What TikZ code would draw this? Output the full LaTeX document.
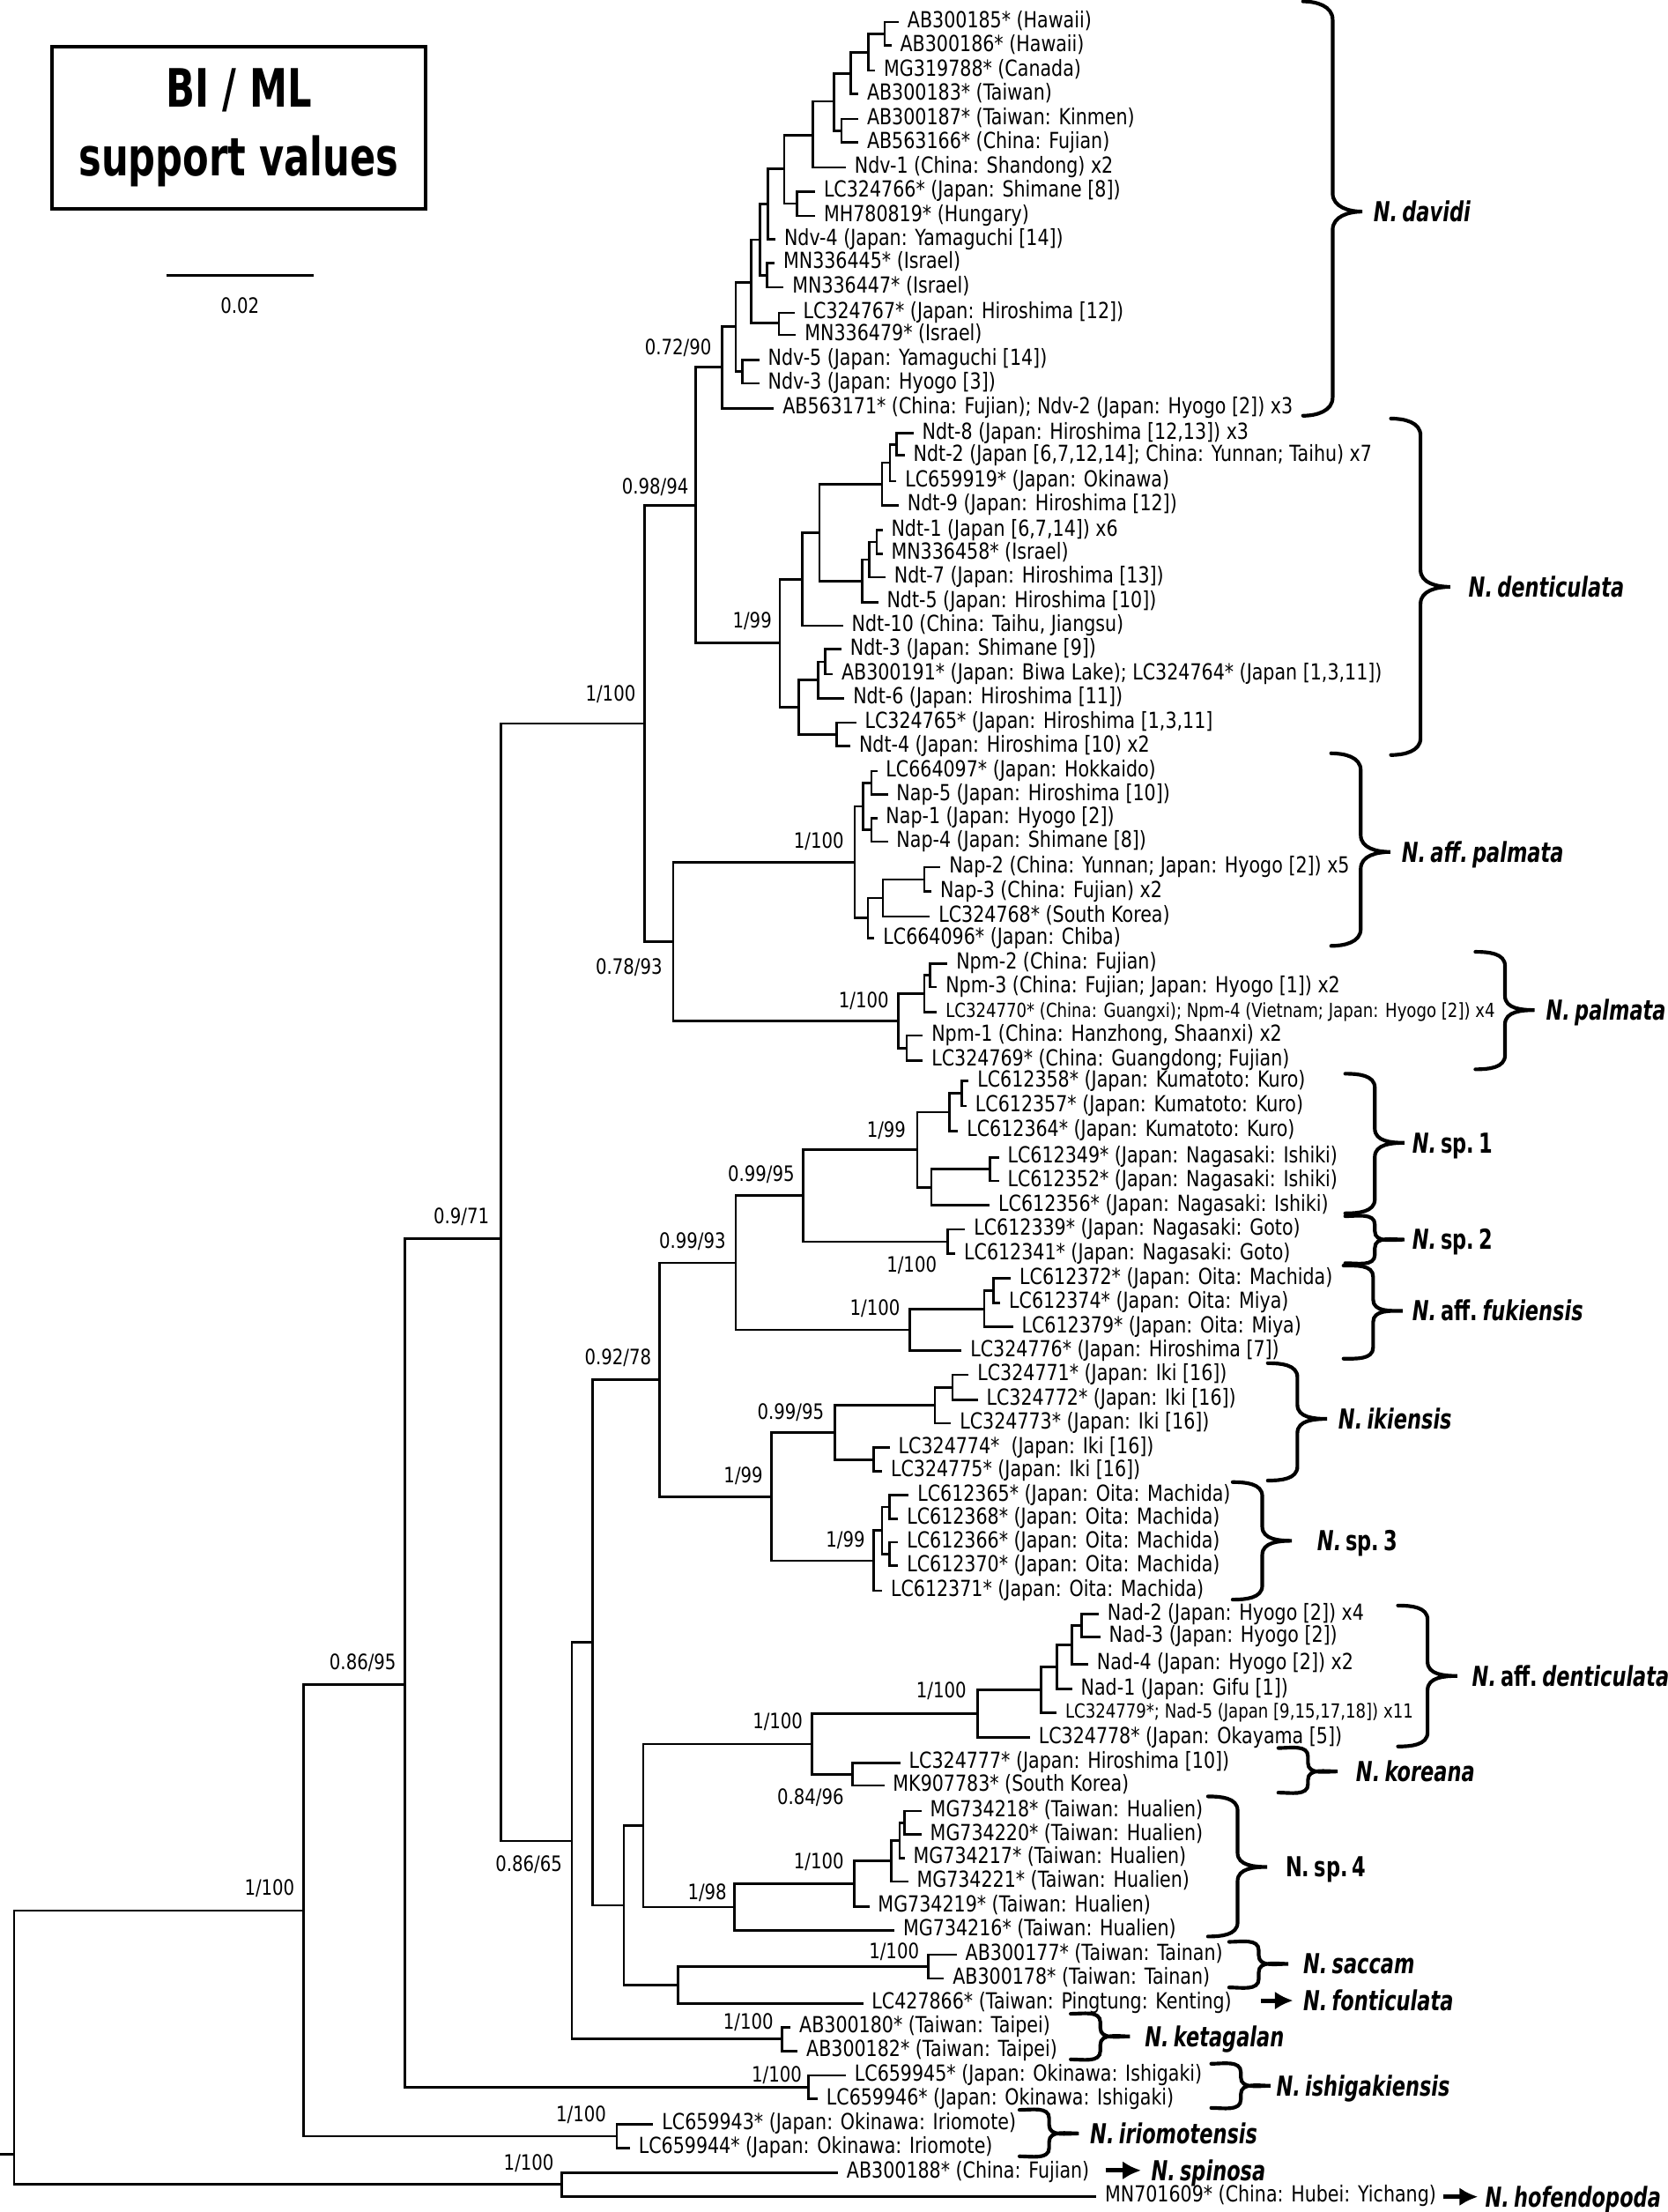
\documentclass[tikz,border=0pt]{standalone}
\usepackage{fontspec}
\newfontfamily\lblfont{DejaVu Sans}[FakeStretch=0.82]
\newfontfamily\spfont{DejaVu Sans}[FakeStretch=0.72]
\usetikzlibrary{arrows.meta}
\newcommand{\sbrace}[5]{% x, top, tip, bottom, curl
  \draw[bracepen] (#1,#2) to[out=0,in=90] ({#1+21},{#2+#5}) -- ({#1+21},{#3-#5})
    to[out=-90,in=180] ({#1+42},{#3}) to[out=180,in=90] ({#1+21},{#3+#5})
    -- ({#1+21},{#4-#5}) to[out=-90,in=0] (#1,#4);}
\tikzset{
  br/.style={line width=1.7pt},
  leaf/.style={anchor=west, inner xsep=6pt, inner ysep=0pt, text height=8pt, text depth=0pt,
               font=\lblfont\fontsize{15.7}{17}\selectfont},
  sup/.style={anchor=east, inner sep=0pt, text height=11pt, text depth=0pt,
              font=\lblfont\fontsize{15}{16}\selectfont},
  spname/.style={anchor=west, inner sep=0pt, text height=14.2pt, text depth=0pt,
                 font=\spfont\bfseries\itshape\fontsize{19.5}{21}\selectfont},
  bracepen/.style={line width=2.6pt, line cap=round},
  sparrow/.style={-{Latex[length=13pt,width=13pt]}, line width=3.2pt, shorten >=7pt},
}
\newcommand{\smallleaf}{\fontsize{13.8}{15}\selectfont}
\begin{document}
\begin{tikzpicture}[x=1pt, y=-1pt]
  \useasboundingbox (0,0) rectangle (1182,1568);
  % legend and scale bar
  \node[draw, line width=2.6pt, minimum width=265pt, minimum height=115pt, align=center,
        font=\spfont\bfseries\fontsize{37.5}{48.5}\selectfont] (legend) at (169.3,90.6) {BI / ML\\support values};
  \coordinate (sb1) at (117.8,195.1);
  \coordinate (sb2) at (222.6,195.1);
  \draw[br, line width=1.5pt] (sb1) -- (sb2);
  \node[sup, anchor=center] (sbl) at (170.1,216.6) {0.02};

  % N. davidi
  \foreach \x/\y/\t [count=\i] in {637.2/15.6/{AB300185* (Hawaii)}, 632/32.3/{AB300186* (Hawaii)},
      620.5/50/{MG319788* (Canada)}, 608.5/66.6/{AB300183* (Taiwan)}, 608.5/84.3/{AB300187* (Taiwan: Kinmen)},
      608.5/101/{AB563166* (China: Fujian)}, 599.7/118.7/{Ndv-1 (China: Shandong) x2},
      577.9/135.8/{LC324766* (Japan: Shimane [8])}, 577.9/153/{MH780819* (Hungary)},
      549.8/169.7/{Ndv-4 (Japan: Yamaguchi [14])}, 549.2/186.4/{MN336445* (Israel)},
      555.6/203.7/{MN336447* (Israel)}, 563.3/221.8/{LC324767* (Japan: Hiroshima [12])},
      564.4/237.4/{MN336479* (Israel)}, 538.3/255/{Ndv-5 (Japan: Yamaguchi [14])},
      538.3/271.8/{Ndv-3 (Japan: Hyogo [3])}, 548.7/289.5/{AB563171* (China: Fujian); Ndv-2 (Japan: Hyogo [2]) x3}} {
    \node[leaf] (dv\i) at (\x,\y) {\t};
  }
  \coordinate (d1) at (627.2,24);    \coordinate (d2) at (615.8,37);    \coordinate (d3) at (603.3,52);
  \coordinate (d4) at (596.6,92.7);  \coordinate (d5) at (591.4,71.8);  \coordinate (d6) at (576.2,95.8);
  \coordinate (d7) at (565,144.3);   \coordinate (d8) at (556,119.7);   \coordinate (d9) at (544.6,144.7);
  \coordinate (d10) at (543.9,195);  \coordinate (d11) at (538.9,170);  \coordinate (d12) at (552.3,229);
  \coordinate (d13) at (532.7,200);  \coordinate (d14) at (526.4,263.4); \coordinate (d15) at (521.6,231.6);
  \coordinate (d16) at (511.9,260.3);
  \foreach \p/\c in {d1/dv1, d1/dv2, d2/d1, d2/dv3, d3/d2, d3/dv4, d4/dv5, d4/dv6, d5/d3, d5/d4,
      d6/d5, d6/dv7, d7/dv8, d7/dv9, d8/d6, d8/d7, d9/d8, d9/dv10, d10/dv11, d10/dv12, d11/d9, d11/d10,
      d12/dv13, d12/dv14, d13/d11, d13/d12, d14/dv15, d14/dv16, d15/d13, d15/d14, d16/d15, d16/dv17} {
    \draw[br] (\p) |- (\c);
  }

  % N. denticulata
  \foreach \x/\y/\t [count=\i] in {647.6/307.2/{Ndt-8 (Japan: Hiroshima [12,13]) x3},
      641.4/322.8/{Ndt-2 (Japan [6,7,12,14]; China: Yunnan; Taihu) x7}, 635.6/341.1/{LC659919* (Japan: Okinawa)},
      637.2/358.2/{Ndt-9 (Japan: Hiroshima [12])}, 625.7/375.9/{Ndt-1 (Japan [6,7,14]) x6},
      625.7/392.5/{MN336458* (Israel)}, 627.8/409.2/{Ndt-7 (Japan: Hiroshima [13])},
      622.6/426.9/{Ndt-5 (Japan: Hiroshima [10])}, 597.7/443.6/{Ndt-10 (China: Taihu, Jiangsu)},
      596.6/460.3/{Ndt-3 (Japan: Shimane [9])}, 590.4/477.9/{AB300191* (Japan: Biwa Lake); LC324764* (Japan [1,3,11])},
      598.7/495/{Ndt-6 (Japan: Hiroshima [11])}, 607/512.3/{LC324765* (Japan: Hiroshima [1,3,11]},
      602.9/528.9/{Ndt-4 (Japan: Hiroshima [10) x2}} {
    \node[leaf] (dt\i) at (\x,\y) {\t};
  }
  \coordinate (t1) at (635.8,315);   \coordinate (t2) at (631,328);     \coordinate (t3) at (625.4,343.2);
  \coordinate (t4) at (621.6,384.2); \coordinate (t5) at (616.4,396.7); \coordinate (t6) at (611.2,411.9);
  \coordinate (t7) at (581,377.5);   \coordinate (t8) at (568.9,410.6); \coordinate (t9) at (585.2,469.1);
  \coordinate (t10) at (580,482);    \coordinate (t11) at (593.1,520.6); \coordinate (t12) at (566.4,501.3);
  \coordinate (t13) at (552.9,455.9); \coordinate (t14) at (493.1,358.1);
  \foreach \p/\c in {t1/dt1, t1/dt2, t2/t1, t2/dt3, t3/t2, t3/dt4, t4/dt5, t4/dt6, t5/t4, t5/dt7,
      t6/t5, t6/dt8, t7/t3, t7/t6, t8/t7, t8/dt9, t9/dt10, t9/dt11, t10/t9, t10/dt12, t11/dt13, t11/dt14,
      t12/t10, t12/t11, t13/t8, t13/t12, t14/d16, t14/t13} {
    \draw[br] (\p) |- (\c);
  }

  % N. aff. palmata and N. palmata
  \foreach \x/\y/\t [count=\i] in {621.9/546.6/{LC664097* (Japan: Hokkaido)}, 629.4/563.3/{Nap-5 (Japan: Hiroshima [10])},
      621.9/579.9/{Nap-1 (Japan: Hyogo [2])}, 629.4/596.6/{Nap-4 (Japan: Shimane [8])},
      666.8/614.7/{Nap-2 (China: Yunnan; Japan: Hyogo [2]) x5}, 660.5/632/{Nap-3 (China: Fujian) x2},
      659.3/649.7/{LC324768* (South Korea)}, 620/665.2/{LC664096* (Japan: Chiba)}} {
    \node[leaf] (ap\i) at (\x,\y) {\t};
  }
  \foreach \x/\y/\t [count=\i] in {671.8/683/{Npm-2 (China: Fujian)}, 664.3/699.7/{Npm-3 (China: Fujian; Japan: Hyogo [1]) x2},
      664.3/717.4/{\smallleaf LC324770* (China: Guangxi); Npm-4 (Vietnam; Japan: Hyogo [2]) x4},
      654.3/734/{Npm-1 (China: Hanzhong, Shaanxi) x2}, 654.3/751.7/{LC324769* (China: Guangdong; Fujian)}} {
    \node[leaf] (pm\i) at (\x,\y) {\t};
  }
  \coordinate (p1) at (617.9,555);   \coordinate (p2) at (617.9,588.3); \coordinate (p3) at (611.9,571.6);
  \coordinate (p4) at (655.3,623.4); \coordinate (p5) at (625.9,636.5); \coordinate (p6) at (615.4,650.8);
  \coordinate (p7) at (605.9,611.2);
  \coordinate (q1) at (659.3,691.4); \coordinate (q2) at (655.3,704.4); \coordinate (q3) at (642.8,742.9);
  \coordinate (q4) at (636.8,723.7); \coordinate (q5) at (477.2,667.5); \coordinate (q6) at (457.1,512.8);
  \foreach \p/\c in {p1/ap1, p1/ap2, p2/ap3, p2/ap4, p3/p1, p3/p2, p4/ap5, p4/ap6, p5/p4, p5/ap7,
      p6/p5, p6/ap8, p7/p3, p7/p6, q1/pm1, q1/pm2, q2/q1, q2/pm3, q3/pm4, q3/pm5, q4/q2, q4/q3,
      q5/p7, q5/q4, q6/t14, q6/q5} {
    \draw[br] (\p) |- (\c);
  }

  % N. sp. 1, N. sp. 2, N. aff. fukiensis
  \foreach \x/\y/\t [count=\i] in {686.8/766.3/{LC612358* (Japan: Kumatoto: Kuro)}, 685.3/784/{LC612357* (Japan: Kumatoto: Kuro)},
      679.3/801.7/{LC612364* (Japan: Kumatoto: Kuro)}, 708.2/820.5/{LC612349* (Japan: Nagasaki: Ishiki)},
      708.2/837.1/{LC612352* (Japan: Nagasaki: Ishiki)}, 701.7/854.4/{LC612356* (Japan: Nagasaki: Ishiki)},
      684.3/871.5/{LC612339* (Japan: Nagasaki: Goto)}, 677.3/888.8/{LC612341* (Japan: Nagasaki: Goto)},
      716.7/906.3/{LC612372* (Japan: Oita: Machida)}, 709.2/923.5/{LC612374* (Japan: Oita: Miya)},
      718.2/940.6/{LC612379* (Japan: Oita: Miya)}, 681.8/957.5/{LC324776* (Japan: Hiroshima [7])}} {
    \node[leaf] (s\i) at (\x,\y) {\t};
  }
  \coordinate (u1) at (681.8,775.1); \coordinate (u2) at (673.3,788.4); \coordinate (u3) at (701.7,828.8);
  \coordinate (u4) at (660.3,841.6); \coordinate (u5) at (650.3,815);   \coordinate (u6) at (671.7,880.2);
  \coordinate (u7) at (569.6,847.6); \coordinate (u8) at (704.2,914.9); \coordinate (u9) at (697.7,927.8);
  \coordinate (u10) at (645,942.6);  \coordinate (u11) at (521.6,895.1);
  \foreach \p/\c in {u1/s1, u1/s2, u2/u1, u2/s3, u3/s4, u3/s5, u4/u3, u4/s6, u5/u2, u5/u4,
      u6/s7, u6/s8, u7/u5, u7/u6, u8/s9, u8/s10, u9/u8, u9/s11, u10/u9, u10/s12, u11/u7, u11/u10} {
    \draw[br] (\p) |- (\c);
  }

  % N. ikiensis and N. sp. 3
  \foreach \x/\y/\t [count=\i] in {686.8/974.6/{LC324771* (Japan: Iki [16])}, 693.2/992.3/{LC324772* (Japan: Iki [16])},
      674.3/1008.9/{LC324773* (Japan: Iki [16])}, 630.8/1026.2/{LC324774*\ \ (Japan: Iki [16])},
      625.4/1042.9/{LC324775* (Japan: Iki [16])}, 644.3/1060/{LC612365* (Japan: Oita: Machida)},
      636.8/1076.6/{LC612368* (Japan: Oita: Machida)}, 636.8/1093.3/{LC612366* (Japan: Oita: Machida)},
      636.8/1109.9/{LC612370* (Japan: Oita: Machida)}, 625.4/1127.6/{LC612371* (Japan: Oita: Machida)}} {
    \node[leaf] (k\i) at (\x,\y) {\t};
  }
  \coordinate (v1) at (675.3,983.5);  \coordinate (v2) at (662.8,996.2);  \coordinate (v3) at (619.4,1034.6);
  \coordinate (v4) at (591.9,1015.4); \coordinate (v5) at (630.8,1068.3); \coordinate (v6) at (630.8,1101.6);
  \coordinate (v7) at (625.4,1085);   \coordinate (v8) at (619.4,1106.3); \coordinate (v9) at (547,1060.9);
  \coordinate (v10) at (467.5,978);
  \foreach \p/\c in {v1/k1, v1/k2, v2/v1, v2/k3, v3/k4, v3/k5, v4/v2, v4/v3, v5/k6, v5/k7,
      v6/k8, v6/k9, v7/v5, v7/v6, v8/v7, v8/k10, v9/v4, v9/v8, v10/u11, v10/v9} {
    \draw[br] (\p) |- (\c);
  }

  % N. aff. denticulata, N. koreana, N. sp. 4
  \foreach \x/\y/\t [count=\i] in {779/1144.3/{Nad-2 (Japan: Hyogo [2]) x4}, 780/1160.3/{Nad-3 (Japan: Hyogo [2])},
      771.5/1179.7/{Nad-4 (Japan: Hyogo [2]) x2}, 760.1/1197.4/{Nad-1 (Japan: Gifu [1])},
      749.1/1214/{\smallleaf LC324779*; Nad-5 (Japan [9,15,17,18]) x11}, 730.2/1231.8/{LC324778* (Japan: Okayama [5])},
      638.3/1249.5/{LC324777* (Japan: Hiroshima [10])}, 626.9/1265.7/{MK907783* (South Korea)}} {
    \node[leaf] (a\i) at (\x,\y) {\t};
  }
  \foreach \x/\y/\t [count=\i] in {653.3/1283.8/{MG734218* (Taiwan: Hualien)}, 653.3/1300.5/{MG734220* (Taiwan: Hualien)},
      641.4/1317.1/{MG734217* (Taiwan: Hualien)}, 643.8/1333.8/{MG734221* (Taiwan: Hualien)},
      616.3/1351.5/{MG734219* (Taiwan: Hualien)}, 634.2/1368.2/{MG734216* (Taiwan: Hualien)}} {
    \node[leaf] (b\i) at (\x,\y) {\t};
  }
  \coordinate (w1) at (766.6,1152.3); \coordinate (w2) at (760.1,1166);   \coordinate (w3) at (749.1,1181.7);
  \coordinate (w4) at (738.1,1197.9); \coordinate (w5) at (693.2,1214.9); \coordinate (w6) at (604.4,1257.6);
  \coordinate (w7) at (575.6,1236.3);
  \coordinate (x1) at (641.4,1292.2); \coordinate (x2) at (637.8,1304.6); \coordinate (x3) at (631.8,1319.2);
  \coordinate (x4) at (605.6,1335.4); \coordinate (x5) at (520.7,1351.8); \coordinate (x6) at (456.1,1294.2);
  \foreach \p/\c in {w1/a1, w1/a2, w2/w1, w2/a3, w3/w2, w3/a4, w4/w3, w4/a5, w5/w4, w5/a6,
      w6/a7, w6/a8, w7/w5, w7/w6, x1/b1, x1/b2, x2/x1, x2/b3, x3/x2, x3/b4, x4/x3, x4/b5,
      x5/x4, x5/b6, x6/w7, x6/x5} {
    \draw[br] (\p) |- (\c);
  }

  % Taiwan and Ryukyu taxa, outgroups
  \foreach \x/\y/\t [count=\i] in {678.3/1385.5/{AB300177* (Taiwan: Tainan)}, 669.3/1402.5/{AB300178* (Taiwan: Tainan)},
      611.9/1420.2/{LC427866* (Taiwan: Pingtung: Kenting)}, 560.5/1436.9/{AB300180* (Taiwan: Taipei)},
      565.5/1453.9/{AB300182* (Taiwan: Taipei)}} {
    \node[leaf] (c\i) at (\x,\y) {\t};
  }
  \foreach \x/\y/\t [count=\i] in {599.7/1471.2/{LC659945* (Japan: Okinawa: Ishigaki)},
      579.7/1487.9/{LC659946* (Japan: Okinawa: Ishigaki)}, 463.2/1505.6/{LC659943* (Japan: Okinawa: Iriomote)},
      446.6/1522.7/{LC659944* (Japan: Okinawa: Iriomote)}, 594.1/1540/{AB300188* (China: Fujian)},
      777.2/1557/{MN701609* (China: Hubei: Yichang)}} {
    \node[leaf] (e\i) at (\x,\y) {\t};
  }
  \coordinate (y1) at (658.3,1394);   \coordinate (y2) at (480.7,1407.1); \coordinate (y3) at (442.2,1350.6);
  \coordinate (y4) at (420.3,1164.3); \coordinate (y5) at (554.5,1445.4); \coordinate (y6) at (405.4,1304.9);
  \coordinate (y7) at (355,878);
  \coordinate (z1) at (573.1,1479.6); \coordinate (z2) at (287,1194.3);   \coordinate (z3) at (437.2,1514.2);
  \coordinate (z4) at (215,1354.3);   \coordinate (z5) at (398.3,1548.5); \coordinate (z6) at (10,1527);
  \coordinate (rt) at (0,1527);
  \foreach \p/\c in {y1/c1, y1/c2, y2/y1, y2/c3, y3/x6, y3/y2, y4/v10, y4/y3, y5/c4, y5/c5,
      y6/y4, y6/y5, y7/q6, y7/y6, z1/e1, z1/e2, z2/y7, z2/z1, z3/e3, z3/e4, z4/z2, z4/z3,
      z5/e5, z5/e6, z6/z4, z6/z5} {
    \draw[br] (\p) |- (\c);
  }
  \draw[br] (rt) -- (z6);

  % support values
  \foreach \x/\y/\a/\b [count=\i] in {504.6/245.7/0.72/90, 488.3/344.6/0.98/94, 547.3/439.4/1/99, 450.8/491.5/1/100,
      598.4/595.6/1/100, 469.7/685/0.78/93, 630.3/709/1/100, 642.4/800.7/1/99, 563.4/832/0.99/95,
      514.7/879.3/0.99/93, 664.3/896.5/1/100, 638.3/926.7/1/100, 461.9/962.1/0.92/78, 584.4/1000.6/0.99/95,
      541/1045.4/1/99, 613.4/1091.2/1/99, 685.3/1198/1/100, 569.3/1219.8/1/100, 598.4/1273.4/0.84/96,
      598.4/1319.2/1/100, 515.4/1341.1/1/98, 651.8/1382.7/1/100, 548.5/1432.7/1/100, 398.7/1321.3/0.86/65,
      347/862/0.9/71, 281/1178/0.86/95, 568.6/1470.2/1/100, 209/1338/1/100, 429.9/1498.3/1/100,
      392.8/1533.1/1/100} {
    \node[sup] (sv\i) at (\x,\y) {\a/\b};
  }

  % species braces and names
  \sbrace{923.8}{1}{150}{294.7}{13}
  \sbrace{986.1}{296.7}{416}{535.2}{12}
  \sbrace{943.7}{534}{603.9}{670.5}{12}
  \sbrace{1046}{674.7}{716}{758}{10}
  \sbrace{953.7}{761.1}{810.1}{860.1}{10}
  \sbrace{953.7}{862.1}{878.7}{895.4}{6}
  \sbrace{952.5}{897.1}{929.2}{963.1}{8}
  \sbrace{898.8}{966.3}{1005.8}{1049.5}{10}
  \sbrace{873.9}{1050.6}{1092.2}{1133.9}{10}
  \sbrace{991.1}{1138.1}{1188}{1238}{10}
  \sbrace{906.3}{1239.1}{1255.7}{1270.7}{6}
  \sbrace{856.4}{1273.4}{1323.4}{1372.7}{10}
  \sbrace{871.4}{1376.5}{1392.1}{1408.8}{6}
  \sbrace{759.1}{1427.5}{1443.5}{1459.8}{6}
  \sbrace{858.7}{1462.9}{1478.5}{1494.2}{6}
  \sbrace{722.8}{1495.6}{1512.3}{1528.5}{6}
  \node[spname] (ndav) at (973.6,150) {N.\,davidi};
  \node[spname] (nden) at (1041,416) {N.\,denticulata};
  \node[spname] (nap) at (993.6,603.9) {N.\,aff.\,palmata};
  \node[spname] (npal) at (1095.9,716) {N.\,palmata};
  \node[spname] (nsp1) at (1001.1,810.1) {N.\,{\upshape sp.\,1}};
  \node[spname] (nsp2) at (1001.1,878.7) {N.\,{\upshape sp.\,2}};
  \node[spname] (nfuk) at (1001.1,929.2) {N.\,{\upshape aff.}\,fukiensis};
  \node[spname] (niki) at (948.7,1005.8) {N.\,ikiensis};
  \node[spname] (nsp3) at (933.7,1092.2) {N.\,{\upshape sp.\,3}};
  \node[spname] (nad) at (1043.5,1188) {N.\,{\upshape aff.}\,denticulata};
  \node[spname] (nkor) at (961.2,1255.7) {N.\,koreana};
  \node[spname, font=\spfont\bfseries\fontsize{19.5}{21}\selectfont] (nsp4) at (911.3,1323.4) {N.\,sp.\,4};
  \node[spname] (nsac) at (923.8,1392.1) {N.\,saccam};
  \node[spname] (nfon) at (923.8,1418.1) {N.\,fonticulata};
  \node[spname] (nket) at (811.5,1443.5) {N.\,ketagalan};
  \node[spname] (nish) at (904.7,1478.5) {N.\,ishigakiensis};
  \node[spname] (niri) at (772.7,1512.3) {N.\,iriomotensis};
  \node[spname] (nspi) at (816,1538.5) {N.\,spinosa};
  \node[spname] (nhof) at (1052.8,1557.2) {N.\,hofendopoda};
  % single-sequence species
  \coordinate (afon) at (893.8,1418.1);
  \coordinate (aspi) at (783.8,1538.5);
  \coordinate (ahof) at (1023.4,1557.2);
  \draw[sparrow] (afon) -- (nfon.west);
  \draw[sparrow] (aspi) -- (nspi.west);
  \draw[sparrow, shorten >=5pt] (ahof) -- (nhof.west);
\end{tikzpicture}
\end{document}
